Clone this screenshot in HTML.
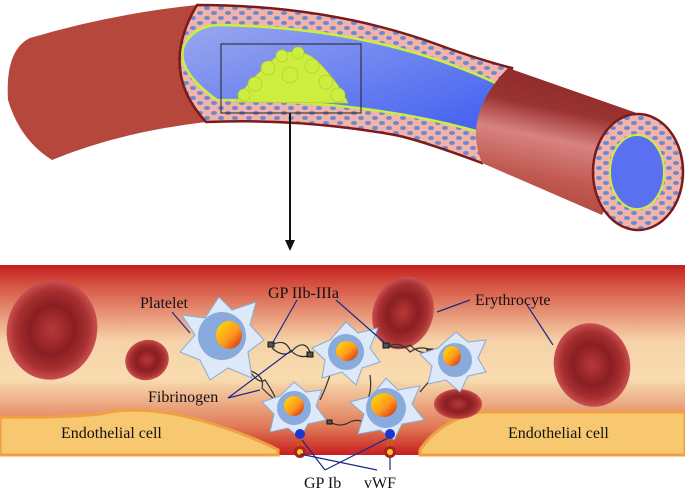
<!DOCTYPE html>
<html><head><meta charset="utf-8"><style>
html,body{margin:0;padding:0;background:#fff;width:685px;height:492px;overflow:hidden}
text{font-family:"Liberation Serif",serif;font-size:16px;fill:#111}
</style></head><body>
<svg width="685" height="492" viewBox="0 0 685 492" xmlns="http://www.w3.org/2000/svg">
<defs>
<linearGradient id="lum" x1="0" y1="0" x2="1" y2="1"><stop offset="0" stop-color="#9aa8ee"/><stop offset="1" stop-color="#3d5cf2"/></linearGradient>
<linearGradient id="tube" x1="0.62" y1="0" x2="0.38" y2="1"><stop offset="0" stop-color="#8a2626"/><stop offset="0.3" stop-color="#9a3432"/><stop offset="0.5" stop-color="#d88282"/><stop offset="0.75" stop-color="#c05a50"/><stop offset="1" stop-color="#b0443a"/></linearGradient>
<linearGradient id="bg" x1="0" y1="0" x2="0" y2="1"><stop offset="0" stop-color="#c41e1e"/><stop offset="0.12" stop-color="#d85a48"/><stop offset="0.4" stop-color="#f6d2a8"/><stop offset="0.6" stop-color="#f8dcb0"/><stop offset="0.85" stop-color="#e07a58"/><stop offset="1" stop-color="#c81e1e"/></linearGradient>
<radialGradient id="rbc"><stop offset="0" stop-color="#b83838"/><stop offset="0.5" stop-color="#8a1e22"/><stop offset="0.8" stop-color="#a83030"/><stop offset="1" stop-color="#c85050"/></radialGradient>
<linearGradient id="nuc" x1="0" y1="0" x2="1" y2="1"><stop offset="0" stop-color="#ffe000"/><stop offset="0.55" stop-color="#ff9a20"/><stop offset="1" stop-color="#d02010"/></linearGradient>
<pattern id="dots" width="14" height="10" patternUnits="userSpaceOnUse"><rect width="14" height="10" fill="#f2b4aa"/><ellipse cx="4" cy="3" rx="3" ry="2" fill="#6a8ad0"/><ellipse cx="11" cy="8" rx="3" ry="2" fill="#6a8ad0"/></pattern>
</defs>

<!-- left tube exterior -->
<path d="M30,38 Q110,14 197,5 L206,122 Q120,132 52,160 Q20,140 8,100 Q5,50 30,38Z" fill="#b5473c"/>
<!-- cutaway wall -->
<path d="M197,5 Q330,5 439,45 Q480,60 512,68 L482,163 Q420,140 395,135 Q300,118 206,122 Q158,70 197,5Z" fill="url(#dots)" stroke="#7a1a1a" stroke-width="2.5"/>
<!-- lumen -->
<path d="M220,25 Q380,28 500,85 L500,138 Q380,100 217,100 Q175,70 184,45 Q195,25 220,25Z" fill="url(#lum)" stroke="#c8f040" stroke-width="2.5"/>
<!-- blob -->
<g fill="#cdee3e" stroke="#b0d030" stroke-width="0.7">
<path d="M236,102 Q245,85 262,70 Q280,50 292,52 Q308,50 322,66 Q340,85 348,103 Z"/>
<circle cx="282" cy="56" r="6"/><circle cx="298" cy="53" r="6"/><circle cx="268" cy="68" r="7"/><circle cx="312" cy="66" r="7"/><circle cx="255" cy="84" r="7"/><circle cx="326" cy="82" r="7"/><circle cx="244" cy="95" r="6"/><circle cx="338" cy="95" r="7"/><circle cx="290" cy="75" r="8"/>
</g>
<rect x="221" y="44" width="140" height="69" fill="none" stroke="#222" stroke-width="1"/>
<!-- right tube -->
<path d="M508,68 L648,117 L602,215 L482,163 Q462,115 508,68Z" fill="url(#tube)"/>
<ellipse cx="638" cy="172" rx="45" ry="58" fill="url(#dots)" stroke="#7a1a1a" stroke-width="2.5"/>
<ellipse cx="637" cy="172" rx="27" ry="37" fill="#5b70f0" stroke="#c8f040" stroke-width="2"/>
<!-- arrow -->
<line x1="290" y1="113" x2="290" y2="240" stroke="#111" stroke-width="2"/>
<path d="M285,240 L295,240 L290,251Z" fill="#111"/>

<!-- lower panel -->
<rect x="0" y="265" width="685" height="190" fill="url(#bg)"/>
<path d="M0,417 Q60,418 100,414 Q140,404 200,420 Q250,435 278,450 L278,455 L0,455Z" fill="#f8c870" stroke="#f0a040" stroke-width="3"/>
<path d="M685,412 L480,412 Q440,420 420,450 L420,455 L685,455Z" fill="#f8c870" stroke="#f0a040" stroke-width="3"/>

<ellipse cx="52" cy="330" rx="45" ry="50" fill="url(#rbc)" transform="rotate(15 52 330)"/>
<ellipse cx="147" cy="360" rx="22" ry="20" fill="url(#rbc)" transform="rotate(-20 147 360)"/>
<ellipse cx="403" cy="313" rx="30" ry="37" fill="url(#rbc)" transform="rotate(20 403 313)"/>
<ellipse cx="592" cy="365" rx="38" ry="42" fill="url(#rbc)" transform="rotate(-15 592 365)"/>
<ellipse cx="458" cy="404" rx="24" ry="15" fill="url(#rbc)"/>

<g stroke="#333" stroke-width="1.2" fill="none">
<path d="M272,345 Q285,338 290,350 Q300,360 310,355"/><path d="M272,348 Q285,360 295,348 Q305,340 310,352"/>
<path d="M248,368 Q258,385 265,380 Q275,395 276,400"/><path d="M248,370 Q265,375 262,388 Q272,398 276,400"/>
<path d="M386,345 Q400,350 410,345 Q420,355 430,352"/><path d="M386,347 Q400,340 410,352 Q420,345 430,350"/>
<path d="M330,375 Q325,390 320,400"/><path d="M370,375 Q372,390 368,398"/>
<path d="M330,422 Q340,428 350,422 Q360,418 365,424"/><path d="M420,392 Q430,380 435,375"/>
</g>
<g fill="#555" stroke="#111"><rect x="268" y="342" width="6" height="5"/><rect x="307" y="352" width="6" height="5"/><rect x="244" y="365" width="6" height="5"/><rect x="273" y="398" width="6" height="5"/><rect x="383" y="343" width="6" height="5"/><rect x="427" y="349" width="6" height="5"/><rect x="327" y="420" width="5" height="4"/><rect x="364" y="421" width="5" height="4"/></g>

<g stroke="#8aaad0" stroke-width="1">
<path d="M219,297 L232,310 L256,302 L250,325 L264,340 L248,352 L252,378 L228,368 L210,380 L200,360 L180,352 L195,335 L182,315 L205,318Z" fill="#dde8f8"/>
<path d="M346,322 L358,333 L378,328 L370,348 L380,362 L362,368 L356,385 L342,372 L322,378 L325,360 L312,348 L330,340Z" fill="#dde8f8"/>
<path d="M456,332 L468,342 L486,340 L478,358 L486,372 L468,376 L460,392 L446,380 L428,384 L432,366 L420,354 L438,348Z" fill="#dde8f8"/>
<path d="M294,382 L306,392 L322,390 L316,406 L326,420 L308,424 L300,438 L288,428 L270,432 L274,414 L262,402 L280,396Z" fill="#dde8f8"/>
<path d="M386,378 L398,390 L420,386 L412,404 L424,420 L402,424 L394,440 L380,430 L358,434 L364,414 L350,402 L372,396Z" fill="#dde8f8"/>
</g>
<g fill="#88aadc">
<circle cx="222" cy="336" r="24"/><circle cx="346" cy="352" r="18"/><circle cx="455" cy="360" r="17"/><circle cx="294" cy="408" r="17"/><circle cx="386" cy="408" r="20"/>
</g>
<g fill="url(#nuc)">
<ellipse cx="229" cy="335" rx="13" ry="14"/><ellipse cx="347" cy="351" rx="11" ry="10"/><ellipse cx="452" cy="356" rx="9" ry="10"/><ellipse cx="294" cy="406" rx="10" ry="10"/><ellipse cx="384" cy="405" rx="13" ry="12"/>
</g>
<circle cx="300" cy="434" r="5" fill="#1a36d0"/><circle cx="390" cy="434" r="5" fill="#1a36d0"/>
<g stroke="#d06010" stroke-width="1.5"><line x1="298" y1="439" x2="298" y2="448"/><line x1="302" y1="439" x2="302" y2="448"/><line x1="388" y1="439" x2="388" y2="448"/><line x1="392" y1="439" x2="392" y2="448"/></g>
<circle cx="300" cy="452" r="6" fill="#b02020"/><circle cx="300" cy="452" r="3" fill="#ffd020"/>
<circle cx="390" cy="452" r="6" fill="#b02020"/><circle cx="390" cy="452" r="3" fill="#ffd020"/>

<g stroke="#1a2a8a" stroke-width="1.2">
<line x1="172" y1="312" x2="190" y2="333"/>
<line x1="297" y1="300" x2="272" y2="344"/><line x1="336" y1="300" x2="386" y2="344"/>
<line x1="470" y1="300" x2="437" y2="312"/><line x1="527" y1="305" x2="553" y2="345"/>
<line x1="228" y1="398" x2="292" y2="350"/><line x1="228" y1="398" x2="260" y2="390"/>
<line x1="325" y1="470" x2="302" y2="440"/><line x1="325" y1="470" x2="388" y2="438"/>
<line x1="377" y1="470" x2="300" y2="454"/><line x1="390" y1="458" x2="390" y2="470"/>
</g>

<text x="140" y="308">Platelet</text>
<text x="268" y="298">GP IIb-IIIa</text>
<text x="475" y="305">Erythrocyte</text>
<text x="148" y="402">Fibrinogen</text>
<text x="61" y="438">Endothelial cell</text>
<text x="508" y="438">Endothelial cell</text>
<text x="304" y="488">GP Ib</text>
<text x="364" y="488">vWF</text>
</svg>
</body></html>
